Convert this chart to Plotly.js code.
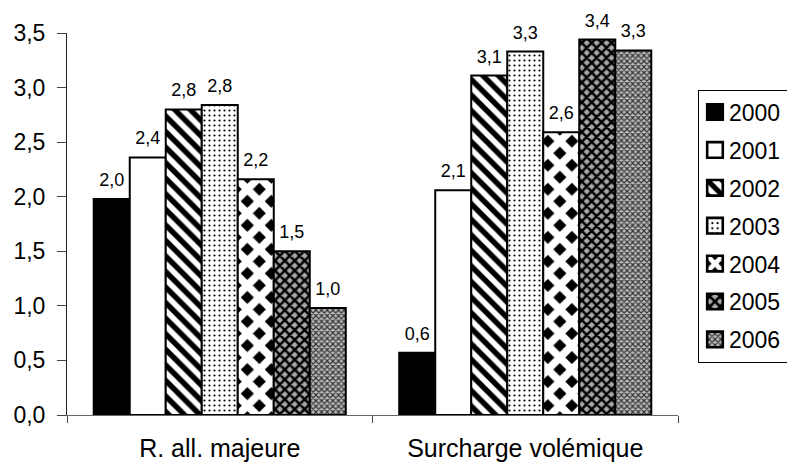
<!DOCTYPE html>
<html>
<head>
<meta charset="utf-8">
<script src="https://cdn.plot.ly/plotly-3.0.1.min.js"></script>
<style>html,body{margin:0;padding:0;background:#fff;}#chart{width:787px;height:468px;}</style>
</head>
<body>
<div id="chart"></div>
<script>
const categories = ["R. all. majeure", "Surcharge volémique"];
const years = ["2000", "2001", "2002", "2003", "2004", "2005", "2006"];
const v2000 = [1.98, 0.57];
const v2001 = [2.36, 2.06];
const v2002 = [2.80, 3.11];
const v2003 = [2.84, 3.33];
const v2004 = [2.16, 2.59];
const v2005 = [1.50, 3.44];
const v2006 = [0.98, 3.34];
const yTicks = [0, 0.5, 1, 1.5, 2, 2.5, 3, 3.5];

const seriesValues = [v2000, v2001, v2002, v2003, v2004, v2005, v2006];
const patterns = [
  {color: "#000000", pattern: {shape: ""}},
  {color: "#ffffff", pattern: {shape: ""}},
  {color: "#ffffff", pattern: {shape: "\\", fgcolor: "#000", bgcolor: "#fff", size: 11, solidity: 0.5}},
  {color: "#ffffff", pattern: {shape: ".", fgcolor: "#000", bgcolor: "#fff", size: 5, solidity: 0.15}},
  {color: "#ffffff", pattern: {shape: "x", fgcolor: "#fff", bgcolor: "#000", size: 17, solidity: 0.7}},
  {color: "#ffffff", pattern: {shape: "x", fgcolor: "#000", bgcolor: "#aaa", size: 7, solidity: 0.6}},
  {color: "#ffffff", pattern: {shape: "x", fgcolor: "#333", bgcolor: "#bbb", size: 4, solidity: 0.5}}
];

const traces = years.map((yr, i) => ({
  type: "bar",
  name: yr,
  x: categories,
  y: seriesValues[i],
  legendgroup: yr,
  marker: {
    color: patterns[i].color,
    pattern: patterns[i].pattern,
    line: {color: "#000", width: 2}
  },
  texttemplate: "%{y:.1f}",
  textposition: "outside",
  cliponaxis: false,
  textfont: {family: "Liberation Sans, Arial, sans-serif", size: 18, color: "#000"},
  hoverinfo: "skip"
}));

const layout = {
  width: 787,
  height: 468,
  paper_bgcolor: "#fff",
  plot_bgcolor: "#fff",
  separators: ",.",
  barmode: "group",
  bargap: 0.175,
  bargroupgap: 0,
  margin: {l: 67, r: 109, t: 33, b: 53, autoexpand: false},
  font: {family: "Liberation Sans, Arial, sans-serif", size: 23, color: "#000"},
  xaxis: {
    type: "category",
    showline: true,
    linecolor: "#666",
    linewidth: 1,
    ticks: "outside",
    tickson: "boundaries",
    ticklen: 7,
    tickcolor: "#444",
    ticklabelstandoff: 11,
    tickfont: {size: 25},
    showgrid: false,
    zeroline: false,
    fixedrange: true
  },
  yaxis: {
    range: [0, 3.5],
    tickvals: yTicks,
    tickformat: ".1f",
    showline: true,
    linecolor: "#222",
    linewidth: 1,
    ticks: "outside",
    ticklen: 9,
    tickcolor: "#444",
    ticklabelstandoff: 7,
    tickfont: {size: 23},
    showgrid: false,
    zeroline: false,
    fixedrange: true
  },
  showlegend: true,
  legend: {
    x: 1.0327,
    xanchor: "left",
    y: 0.852,
    yanchor: "top",
    bordercolor: "#000",
    borderwidth: 1,
    bgcolor: "#fff",
    font: {size: 23},
    traceorder: "grouped",
    tracegroupgap: 5,
    itemwidth: 38
  }
};

Plotly.newPlot("chart", traces, layout, {staticPlot: true, displayModeBar: false}).then(gd => {
  // styling tweaks: lift data labels a little, tighten legend text gap
  gd.querySelectorAll(".barlayer text.bartext").forEach(t => {
    const tr = t.getAttribute("transform") || "";
    t.setAttribute("transform", "translate(0,-6) " + tr);
  });
  gd.querySelectorAll(".legend text.legendtext").forEach(t => {
    const x = parseFloat(t.getAttribute("x") || "0");
    t.setAttribute("x", x - 18);
  });
  gd.querySelectorAll(".legend .legendpoints path").forEach(p => {
    const tr = p.getAttribute("transform") || "";
    p.setAttribute("transform", "translate(-8,0) " + tr + " scale(1.3)");
  });
});
</script>
</body>
</html>
